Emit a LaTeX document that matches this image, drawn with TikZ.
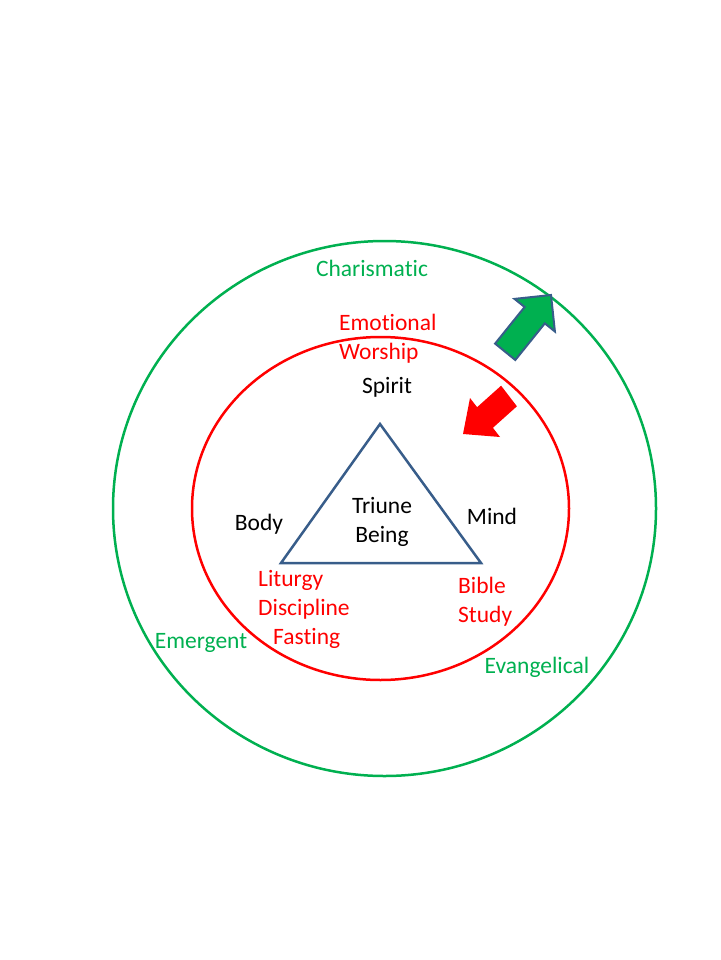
\documentclass[tikz,border=0pt]{standalone}
\usepackage{fontspec}
\setmainfont[Ligatures=NoCommon]{Carlito}
\usetikzlibrary{positioning}
\definecolor{ringG}{RGB}{0,176,80}
\definecolor{ringR}{RGB}{255,0,0}
\definecolor{triB}{RGB}{56,93,138}

\begin{document}
\begin{tikzpicture}[x=1pt,y=-1pt,
  lbl/.style={font=\fontsize{23.5}{29}\selectfont,inner sep=0pt,align=center},
  lblG/.style={lbl,text=ringG},
  lblR/.style={lbl,text=ringR}]
  \useasboundingbox (0,0) rectangle (720,960);
  % the two rings
  \draw[ringG,line width=2.5pt] (384.5,508.5) ellipse [x radius=271.5, y radius=267.5];
  \draw[ringR,line width=2.5pt] (380.5,508.5) ellipse [x radius=188.5, y radius=171.5];
  % triangle in the middle
  \coordinate (apex) at (380,424);
  \coordinate (bl) at (281,563);
  \coordinate (br) at (481,563);
  \draw[triB,line width=2.5pt,line join=miter] (apex) -- (bl) -- (br) -- cycle;
  % block arrows: outward (green) and inward (red)
  \fill[ringG,draw=triB,line width=2pt,line join=miter]
    (551,295) -- (554.9,331.5) -- (544.8,323.4) -- (515.3,360.0)
    -- (495.1,343.6) -- (524.6,307.0) -- (514.5,298.9) -- cycle;
  \fill[ringR]
    (463,434) -- (500,437) -- (492.9,427.8) -- (516.9,406.3)
    -- (501.1,385.7) -- (477.1,407.2) -- (470,398) -- cycle;
  % labels
  \node[lblG] (charis) at (372,268) {Charismatic};
  \node[lblR,anchor=west,align=left] (emo) at (339,338.5) {Emotional\\Worship};
  \node[lbl] (spirit) at (387,387) {Spirit};
  \node[lbl] (body) at (259,524) {Body};
  \node[lbl] (mind) at (492,516) {Mind};
  \node[lbl] (triune) at (382,522) {Triune\\Being};
  \node[lblR,anchor=west,align=left] (litur) at (258,609)
    {Liturgy\\Discipline\\\hspace{15pt}Fasting};
  \node[lblR,anchor=west,align=left] (bible) at (458,601.5) {Bible\\Study};
  \node[lblG] (emerg) at (201,643) {Emergent};
  \node[lblG] (evang) at (537,667) {Evangelical};
\end{tikzpicture}
\end{document}
